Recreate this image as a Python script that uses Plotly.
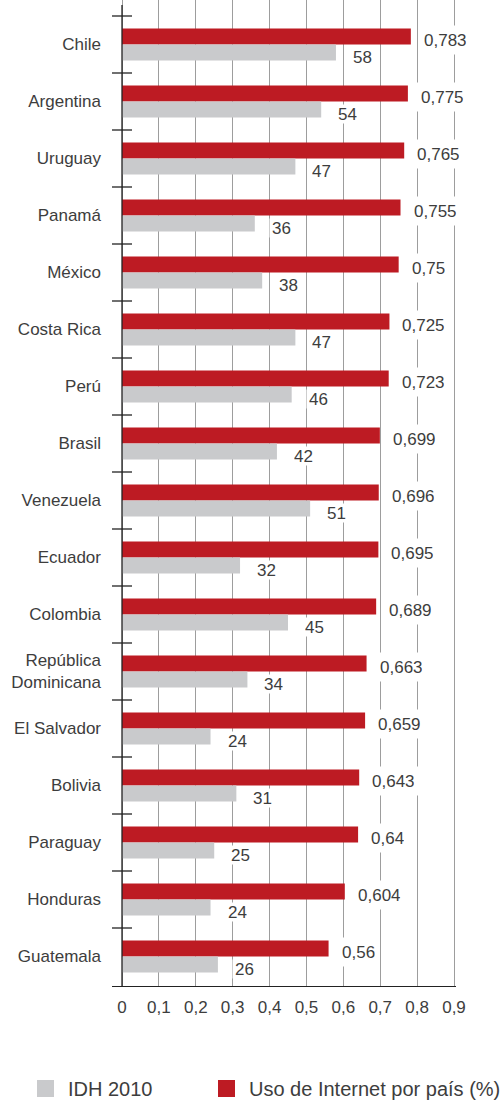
import plotly.graph_objects as go

categories = ["Chile", "Argentina", "Uruguay", "Panamá", "México", "Costa Rica", "Perú",
              "Brasil", "Venezuela", "Ecuador", "Colombia", "República<br>Dominicana",
              "El Salvador", "Bolivia", "Paraguay", "Honduras", "Guatemala"]
internet_values = [0.783, 0.775, 0.765, 0.755, 0.75, 0.725, 0.723, 0.699, 0.696, 0.695,
                   0.689, 0.663, 0.659, 0.643, 0.64, 0.604, 0.56]
internet_labels = ["0,783", "0,775", "0,765", "0,755", "0,75", "0,725", "0,723", "0,699",
                   "0,696", "0,695", "0,689", "0,663", "0,659", "0,643", "0,64", "0,604", "0,56"]
idh_values = [58, 54, 47, 36, 38, 47, 46, 42, 51, 32, 45, 34, 24, 31, 25, 24, 26]
x_tickvals = [0, 0.1, 0.2, 0.3, 0.4, 0.5, 0.6, 0.7, 0.8, 0.9]
x_ticktext = ["0", "0,1", "0,2", "0,3", "0,4", "0,5", "0,6", "0,7", "0,8", "0,9"]
legend_names = ["IDH 2010", "Uso de Internet por país (%)"]

RED = "#BD1B23"
GRAY = "#C9CACC"
TXT = "#3d3d3d"
FONT = "Liberation Sans, Arial, Helvetica, sans-serif"

W, H = 504, 1104
ML, MR, MT, MB = 112, 48, 0, 118
PX_PER_UNIT = 332 / 0.9
x_lo = -10 / PX_PER_UNIT
x_hi = 0.9 + 2 / PX_PER_UNIT
n = len(categories)
y_top = -0.5 - 16 / 57
y_bot = n - 0.5 + 1 / 57

fig = go.Figure()
fig.add_trace(go.Bar(
    y=categories, x=internet_values, orientation="h", name=legend_names[1],
    marker=dict(color=RED, line=dict(width=0)), showlegend=False, hoverinfo="x+y",
))
fig.add_trace(go.Bar(
    y=categories, x=[v / 100 for v in idh_values], orientation="h", name=legend_names[0],
    marker=dict(color=GRAY, line=dict(width=0)), showlegend=False,
    customdata=idh_values, hovertemplate="%{y}: %{customdata}<extra></extra>",
))

annotations = []
for c, v, lab in zip(categories, internet_values, internet_labels):
    annotations.append(dict(
        x=v, y=c, xref="x", yref="y", text=lab, showarrow=False,
        xanchor="left", yanchor="middle", xshift=8, yshift=5,
        font=dict(family=FONT, size=17, color=TXT),
        bgcolor="white", borderpad=4, height=20,
    ))
for c, v in zip(categories, idh_values):
    annotations.append(dict(
        x=v / 100, y=c, xref="x", yref="y", text=str(v), showarrow=False,
        xanchor="left", yanchor="middle", xshift=14, yshift=-12.5,
        font=dict(family=FONT, size=17, color=TXT),
        bgcolor="white", borderpad=2, height=14,
    ))

# custom legend
pw = W - ML - MR
ph = H - MT - MB
def px_x(X):
    return (X - ML) / pw
def px_y(Y):
    return (H - MB - Y) / ph

shapes = []
legend_items = [(GRAY, 37, legend_names[0]), (RED, 218, legend_names[1])]
for col, x0, name in legend_items:
    shapes.append(dict(type="rect", xref="paper", yref="paper",
                       x0=px_x(x0), x1=px_x(x0 + 17), y0=px_y(1097), y1=px_y(1080),
                       fillcolor=col, line=dict(width=0)))
    annotations.append(dict(x=px_x(x0 + 29), y=px_y(1089), xref="paper", yref="paper",
                            text=name, showarrow=False, xanchor="left", yanchor="middle",
                            font=dict(family=FONT, size=20, color=TXT)))

# y axis line and boundary ticks
shapes.append(dict(type="line", xref="x", yref="paper", x0=0, x1=0, y0=0, y1=1 - 5 / ph,
                   line=dict(color="#222222", width=1.3), layer="above"))
for i in range(n):
    yb = i - 0.5
    shapes.append(dict(type="line", xref="x", yref="y", x0=x_lo, x1=-x_lo, y0=yb, y1=yb,
                       line=dict(color="#222222", width=1.3), layer="above"))

fig.update_layout(
    width=W, height=H,
    margin=dict(l=ML, r=MR, t=MT, b=MB, pad=0),
    paper_bgcolor="white", plot_bgcolor="white",
    barmode="group", bargap=25 / 57, bargroupgap=0,
    font=dict(family=FONT, size=17, color=TXT),
    annotations=annotations, shapes=shapes,
    xaxis=dict(range=[x_lo, x_hi], tickmode="array", tickvals=x_tickvals, ticktext=x_ticktext,
               showgrid=True, gridcolor="#9d9d9d", gridwidth=1, zeroline=False,
               showline=True, linecolor="#222222", linewidth=1.3, ticks="",
               ticklabelstandoff=5, tickfont=dict(family=FONT, size=17, color=TXT)),
    yaxis=dict(type="category", range=[y_bot, y_top], showgrid=False, zeroline=False,
               showline=False, ticks="", ticklabelstandoff=10,
               tickfont=dict(family=FONT, size=17, color=TXT)),
)

fig.write_html("out.html", config={"displayModeBar": False},
               post_script="document.body.style.margin='0';")
